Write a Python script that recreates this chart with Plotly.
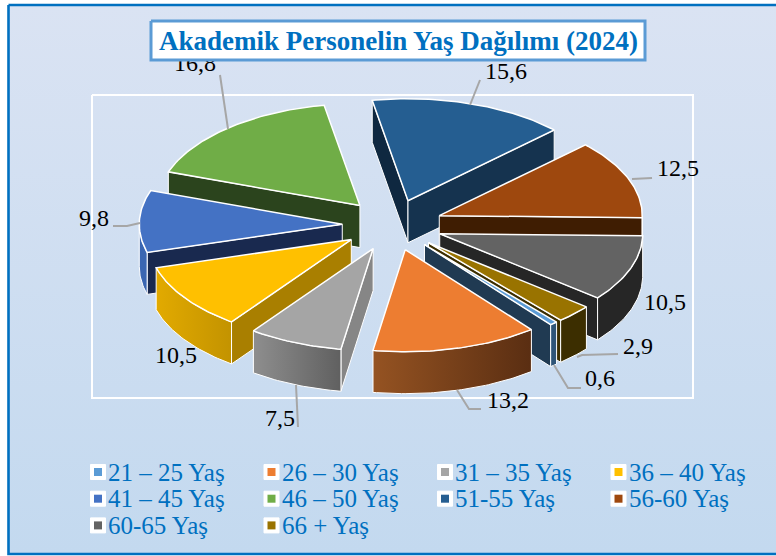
import math
import plotly.graph_objects as go

categories = ["21 – 25 Yaş", "26 – 30 Yaş", "31 – 35 Yaş", "36 – 40 Yaş", "41 – 45 Yaş",
              "46 – 50 Yaş", "51-55 Yaş", "56-60 Yaş", "60-65 Yaş", "66 + Yaş"]
values = [0.6, 13.2, 7.5, 10.5, 9.8, 16.8, 15.6, 12.5, 10.5, 2.9]
value_labels = ["0,6", "13,2", "7,5", "10,5", "9,8", "16,8", "15,6", "12,5", "10,5", "2,9"]
title_text = "Akademik Personelin Yaş Dağılımı (2024)"

top_colors = ["#5B9BD5", "#ED7D31", "#A5A5A5", "#FFC000", "#4472C4",
              "#70AD47", "#255E91", "#9E480E", "#636363", "#997300"]
radial_colors = ["#203A52", "#5C2E10", "#868686", "#A97F00", "#19294F",
                 "#2B441D", "#15334F", "#3F1D02", "#262626", "#3C2E00"]
start_radial_colors = {6: "#0F2840"}
arc_gradients = [("#2F5578", "#2F5578"), ("#955322", "#5A2E12"), ("#8E8E8E", "#606060"),
                 ("#E2AA00", "#C39300"), ("#3A66B2", "#3A66B2"), ("#2B441D", "#2B441D"),
                 ("#15334F", "#15334F"), ("#3F1D02", "#3F1D02"), ("#262626", "#262626"),
                 ("#3C2E00", "#3C2E00")]

# Pie geometry
CX, CY, RX, RY = 392.5, 225, 203, 102
EXPLODE, WALL, FIRST_ANGLE = 0.25, 42, 139.4
FONT = "Liberation Serif"

fig = go.Figure()


def poly(xs, ys, color=None, line="white", lw=1.0, grad=None):
    kw = dict(x=list(xs) + [xs[0]], y=list(ys) + [ys[0]], mode="lines", fill="toself",
              line=dict(color=line, width=lw), hoverinfo="skip", showlegend=False)
    if grad:
        kw["fillgradient"] = dict(type="horizontal", colorscale=[[0, grad[0]], [1, grad[1]]])
    else:
        kw["fillcolor"] = color
    fig.add_trace(go.Scatter(**kw))


def pt(cx, cy, deg):
    r = math.radians(deg)
    return cx + RX * math.sin(r), cy - RY * math.cos(r)


# Background panel
fig.add_trace(go.Scatter(
    x=[8.5, 790, 790, 8.5, 8.5], y=[5, 5, 554, 554, 5], mode="lines", fill="toself",
    line=dict(color="#0070C0", width=2.6), hoverinfo="skip", showlegend=False,
    fillgradient=dict(type="vertical", colorscale=[[0, "#C3D9EF"], [1, "#DAE3F3"]])))
# Plot-area frame
poly([92, 693, 693, 92], [95, 95, 398, 398], color="rgba(0,0,0,0)", line="white", lw=2)

# Slices
total = sum(values)
angle = FIRST_ANGLE
slices = []
for i, v in enumerate(values):
    span = v / total * 360
    slices.append((i, angle, angle + span))
    angle += span


def depth(s):
    mid = math.radians((s[1] + s[2]) / 2)
    return -math.cos(mid)


for i, a0, a1 in sorted(slices, key=depth):
    mid = math.radians((a0 + a1) / 2)
    ax = CX + EXPLODE * 201 * math.sin(mid)
    ay = CY - EXPLODE * RY * math.cos(mid)
    steps = max(4, int(a1 - a0))
    arc = [pt(ax, ay, a0 + (a1 - a0) * k / steps) for k in range(steps + 1)]

    # radial faces turned to the viewer
    sx, sy = arc[0]
    ex, ey = arc[-1]
    if sx < ax:
        poly([ax, sx, sx, ax], [ay, sy, sy + WALL, ay + WALL],
             color=start_radial_colors.get(i, radial_colors[i]))
    if ex > ax:
        poly([ax, ex, ex, ax], [ay, ey, ey + WALL, ay + WALL], color=radial_colors[i])

    # outer face
    for lo, hi in [(90, 270), (450, 630)]:
        b0, b1 = max(a0, lo), min(a1, hi)
        if b0 < b1:
            n = max(4, int(b1 - b0))
            face = [pt(ax, ay, b0 + (b1 - b0) * k / n) for k in range(n + 1)]
            xs = [p[0] for p in face] + [p[0] for p in reversed(face)]
            ys = [p[1] for p in face] + [p[1] + WALL for p in reversed(face)]
            g = arc_gradients[i]
            poly(xs, ys, grad=g if g[0] != g[1] else None,
                 color=None if g[0] != g[1] else g[0])

    # top face
    poly([ax] + [p[0] for p in arc], [ay] + [p[1] for p in arc], color=top_colors[i], lw=1.5)

# Leader lines
leaders = {
    5: [(220, 75), (228, 129)],
    6: [(480, 80), (470, 105)],
    7: [(652, 178), (632, 179)],
    4: [(113, 226), (127, 226), (140, 223)],
    9: [(618, 354), (582, 355), (577, 357)],
    0: [(581, 388), (568, 388), (554, 365)],
    1: [(481, 409), (469, 409), (457, 390)],
    2: [(298, 427), (296, 385)],
}
for pts in leaders.values():
    fig.add_trace(go.Scatter(x=[p[0] for p in pts], y=[p[1] for p in pts], mode="lines",
                             line=dict(color="#A6A6A6", width=2), hoverinfo="skip",
                             showlegend=False))

# Value labels
label_pos = {0: (600, 380), 1: (508, 402), 2: (280, 420), 3: (176, 357), 4: (94, 220),
             5: (195, 65), 6: (506, 73), 7: (678, 170), 8: (665, 304), 9: (638, 348)}
fig.add_trace(go.Scatter(
    x=[label_pos[i][0] for i in range(len(values))],
    y=[label_pos[i][1] for i in range(len(values))],
    text=value_labels, mode="text", textposition="middle center",
    textfont=dict(family=FONT, size=24, color="#000000"),
    hoverinfo="skip", showlegend=False))

# Title box covers the top of the 16,8 label
poly([151, 645, 645, 151], [21, 21, 60, 60], color="white", line="#5B9BD5", lw=3)
fig.add_annotation(x=398, y=41, text=f"<b>{title_text}</b>", showarrow=False,
                   font=dict(family=FONT, size=27, color="#0070C0"),
                   xanchor="center", yanchor="middle")

# Legend
COLS, COL0, COL_STEP, ROW0, ROW_STEP = 4, 98, 173.5, 472, 26.7
for i, name in enumerate(categories):
    x = COL0 + COL_STEP * (i % COLS)
    y = ROW0 + ROW_STEP * (i // COLS)
    fig.add_trace(go.Scatter(x=[x], y=[y], mode="markers", hoverinfo="skip", showlegend=False,
                             marker=dict(symbol="square", size=15, color="white",
                                         line=dict(color="white", width=1))))
    fig.add_trace(go.Scatter(x=[x], y=[y], mode="markers", hoverinfo="skip", showlegend=False,
                             marker=dict(symbol="square", size=8, color=top_colors[i],
                                         line=dict(width=0))))
    fig.add_annotation(x=x + 10, y=y, text=name, showarrow=False,
                       font=dict(family=FONT, size=25, color="#0070C0"),
                       xanchor="left", yanchor="middle", xshift=-2)

fig.update_layout(
    width=776, height=556, margin=dict(l=0, r=0, t=0, b=0),
    paper_bgcolor="white", plot_bgcolor="rgba(0,0,0,0)", showlegend=False,
    xaxis=dict(range=[0, 776], visible=False, fixedrange=True),
    yaxis=dict(range=[556, 0], visible=False, fixedrange=True),
)
fig.write_html("out.html", config={"displayModeBar": False},
               post_script="document.body.style.margin='0';document.body.style.overflow='hidden';")
